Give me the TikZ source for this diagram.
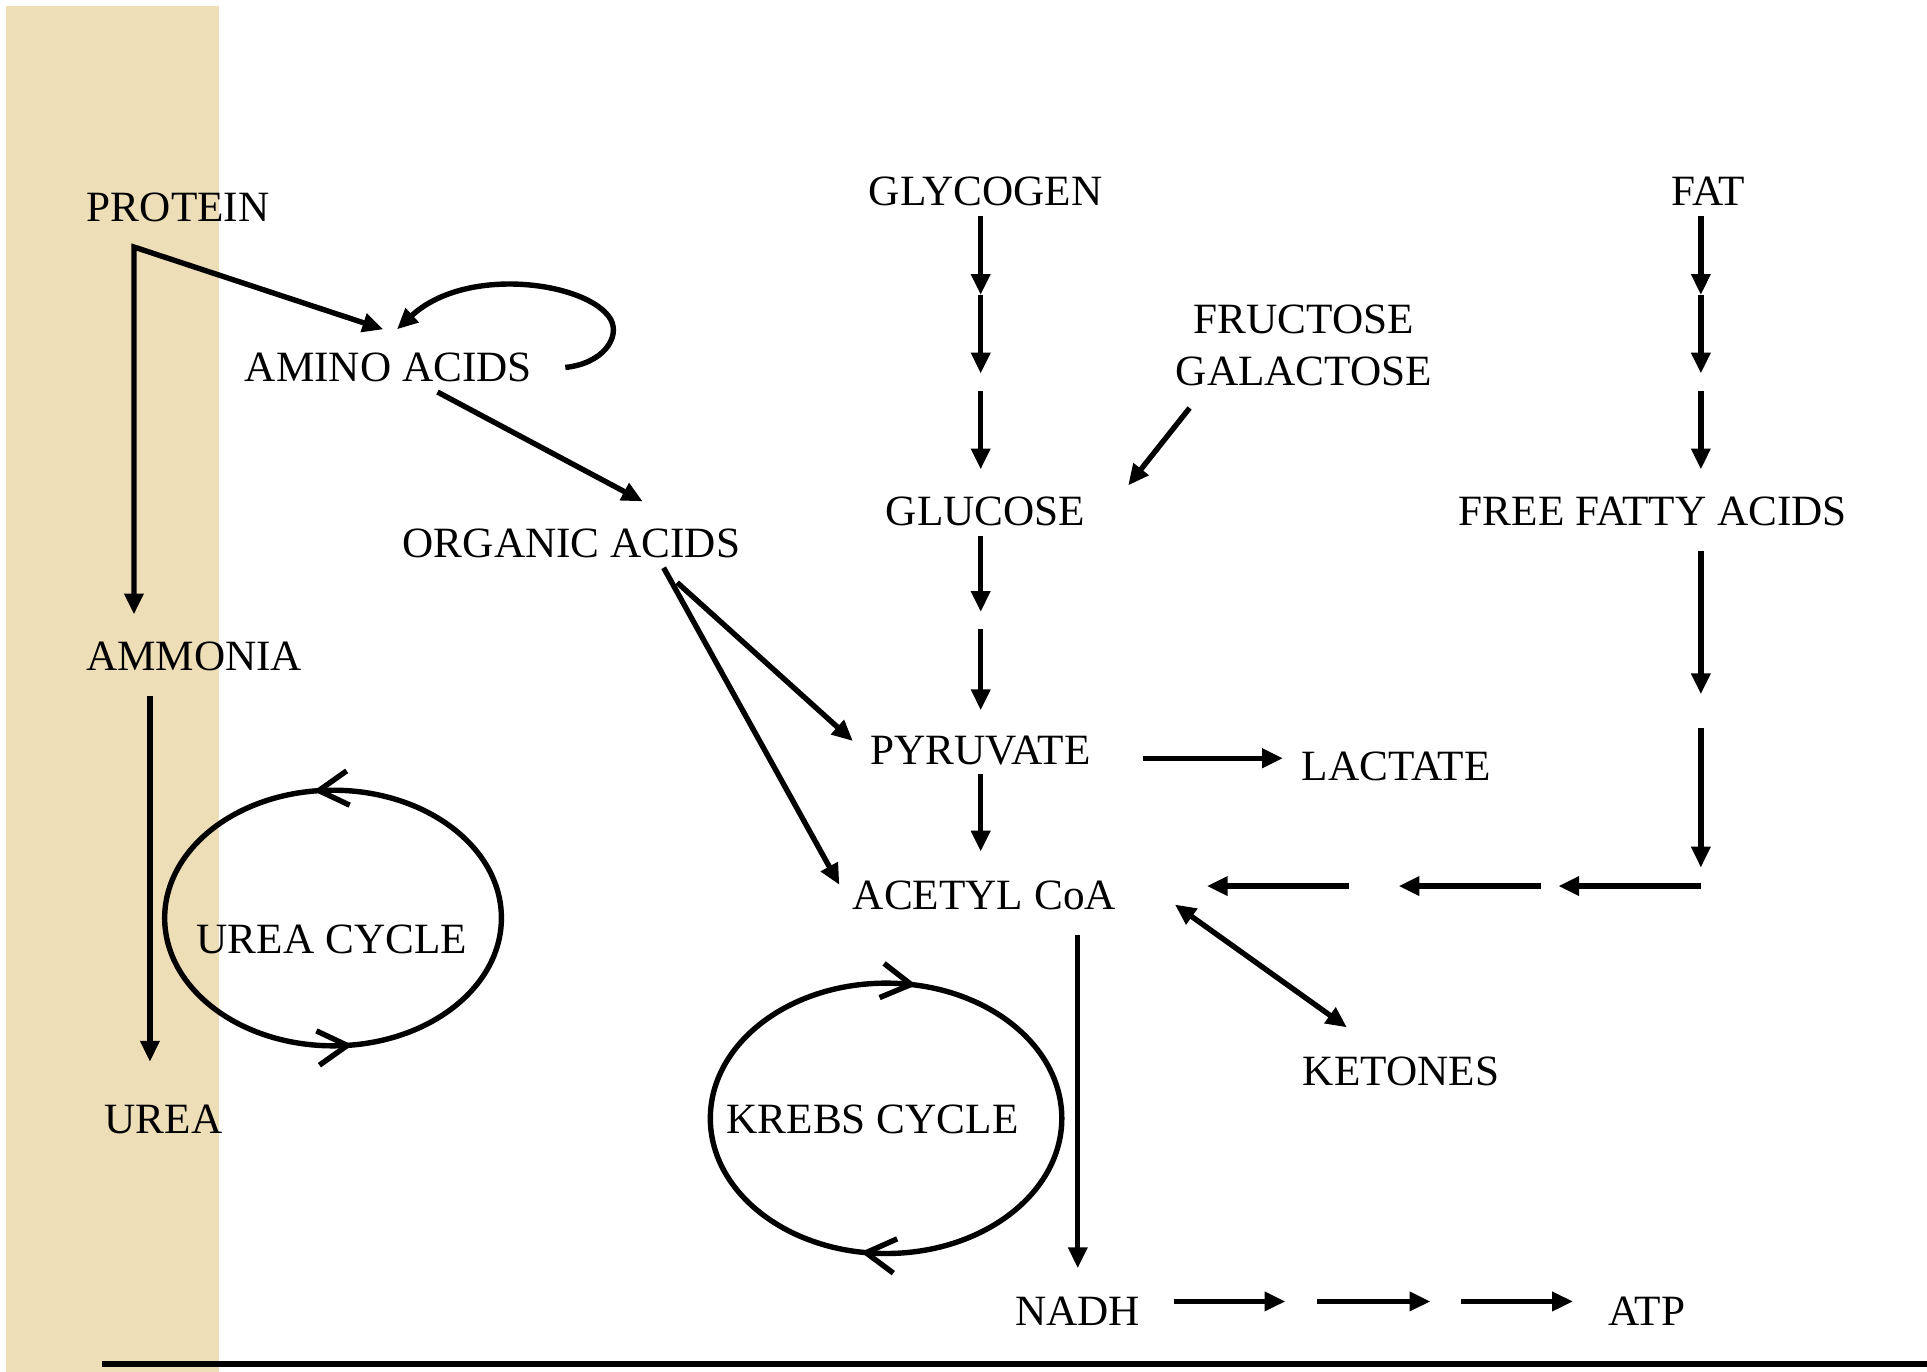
\documentclass[tikz,border=0pt]{standalone}
\usepackage{fontspec}
\setmainfont{Liberation Serif}
\usepackage{xcolor}
\usetikzlibrary{
	arrows.meta,    % Per le punte di freccia
	decorations.markings % Per le frecce sui cicli
}
\definecolor{fascia}{RGB}{238,222,183}
\tikzset{
	cyclebarb/.tip={Straight Barb[length=2.4mm,width=2.8mm]},
	label/.style={inner sep=0pt, font=\fontsize{10}{12}\selectfont}
}

\begin{document}
\begin{tikzpicture}[x=0.01cm, y=-0.01cm, line width=1.25pt,
		>={Triangle[length=1.7mm,width=1.5mm]}]
	% --- Sfondo ---
	\useasboundingbox (0,0) rectangle (1568,1116);
	\fill[fascia] (5,5) rectangle (178,1116);
	\draw[line width=1.3pt] (83,1110) -- (1568,1110);
	
	% --- Sostanze ---
	\node[label] (protein) at (145,169) {PROTEIN};
	\node[label] (amino) at (316,299) {AMINO ACIDS};
	\node[label] (organic) at (465,442) {ORGANIC ACIDS};
	\node[label] (ammonia) at (158,534) {AMMONIA};
	\node[label] (urea) at (133,911) {UREA};
	\node[label] (glycogen) at (802,156) {GLYCOGEN};
	\node[label, align=center] (sugars) at (1061,281) {FRUCTOSE\\GALACTOSE};
	\node[label] (glucose) at (802,416) {GLUCOSE};
	\node[label] (fat) at (1390,156) {FAT};
	\node[label] (ffa) at (1345,416) {FREE FATTY ACIDS};
	\node[label] (pyruvate) at (798,611) {PYRUVATE};
	\node[label] (lactate) at (1136,624) {LACTATE};
	\node[label] (acetyl) at (801,729) {ACETYL CoA};
	\node[label] (ketones) at (1140,872) {KETONES};
	\node[label] (nadh) at (877,1067) {NADH};
	\node[label] (atp) at (1340,1067) {ATP};
	
	% --- Cicli ---
	\coordinate (ureacentre) at (271,747);
	\coordinate (krebscentre) at (721,910);
	\draw[decoration={markings,
			mark=at position 0.229 with {\arrowreversed{cyclebarb}},
			mark=at position 0.729 with {\arrowreversed{cyclebarb}}},
		postaction={decorate}] (ureacentre) ellipse [x radius=137, y radius=104];
	\draw[decoration={markings,
			mark=at position 0.276 with {\arrow{cyclebarb}},
			mark=at position 0.781 with {\arrow{cyclebarb}}},
		postaction={decorate}] (krebscentre) ellipse [x radius=143, y radius=110];
	\node[label] (ureacycle) at (270,764) {UREA CYCLE};
	\node[label] (krebs) at (710,911) {KREBS CYCLE};
	
	% --- Punti delle frecce ---
	\coordinate (p0) at (109,201);
	\coordinate (p1) at (109,500);
	\coordinate (p2) at (312,268);
	\coordinate (l0) at (460,299);
	\coordinate (l1) at (323,268);
	\foreach \n/\y in {1/176, 2/240, 3/304, 4/318, 5/382} {
		\coordinate (gly\n) at (798,\y);
		\coordinate (fat\n) at (1384,\y);
	}
	\foreach \n/\y in {1/436, 2/498, 3/512, 4/578} 
		\coordinate (glu\n) at (798,\y);
	\foreach \n/\y in {1/448, 2/565, 3/592, 4/706} 
		\coordinate (ffa\n) at (1384,\y);
	\foreach \n/\x in {1/1384, 2/1268, 3/1254, 4/1138, 5/1098, 6/982} 
		\coordinate (back\n) at (\x,721);
	\foreach \n/\x in {1/955, 2/1046, 3/1072, 4/1164, 5/1189, 6/1280} 
		\coordinate (atp\n) at (\x,1059);
	
	% --- Frecce a sinistra ---
	\draw[<->] (p2) -- (p0) -- (p1);
	\draw[->] (l0) .. controls (490,296) and (505,275) .. (497,260)
		.. controls (480,230) and (380,215) .. (l1);
	\coordinate (a0) at (356,319);
	\coordinate (a1) at (523,408);
	\draw[->] (a0) -- (a1);
	\coordinate (o0) at (551,474);
	\coordinate (o1) at (694,603);
	\draw[->] (o0) -- (o1);
	\coordinate (o2) at (540,462);
	\coordinate (o3) at (683,720);
	\draw[->] (o2) -- (o3);
	\coordinate (m0) at (122,566);
	\coordinate (m1) at (122,864);
	\draw[->] (m0) -- (m1);
	
	% --- Zuccheri ---
	\draw[->] (gly1) -- (gly2);
	\draw[->] (gly2) -- (gly3);
	\draw[->] (gly4) -- (gly5);
	\draw[->] (glu1) -- (glu2);
	\draw[->] (glu3) -- (glu4);
	\coordinate (s0) at (968,332);
	\coordinate (s1) at (918,395);
	\draw[->] (s0) -- (s1);
	\coordinate (y0) at (930,617);
	\coordinate (y1) at (1044,617);
	\draw[->] (y0) -- (y1);
	\coordinate (y2) at (798,630);
	\coordinate (y3) at (798,693);
	\draw[->] (y2) -- (y3);
	
	% --- Grassi ---
	\draw[->] (fat1) -- (fat2);
	\draw[->] (fat2) -- (fat3);
	\draw[->] (fat4) -- (fat5);
	\draw[->] (ffa1) -- (ffa2);
	\draw[->] (ffa3) -- (ffa4);
	\draw[->] (back1) -- (back2);
	\draw[->] (back3) -- (back4);
	\draw[->] (back5) -- (back6);
	
	% --- Acetil CoA ---
	\coordinate (k0) at (956,736);
	\coordinate (k1) at (1096,836);
	\draw[<->] (k0) -- (k1);
	\coordinate (n0) at (877,761);
	\coordinate (n1) at (877,1032);
	\draw[->] (n0) -- (n1);
	\draw[->] (atp1) -- (atp2);
	\draw[->] (atp3) -- (atp4);
	\draw[->] (atp5) -- (atp6);
\end{tikzpicture}
\end{document}
